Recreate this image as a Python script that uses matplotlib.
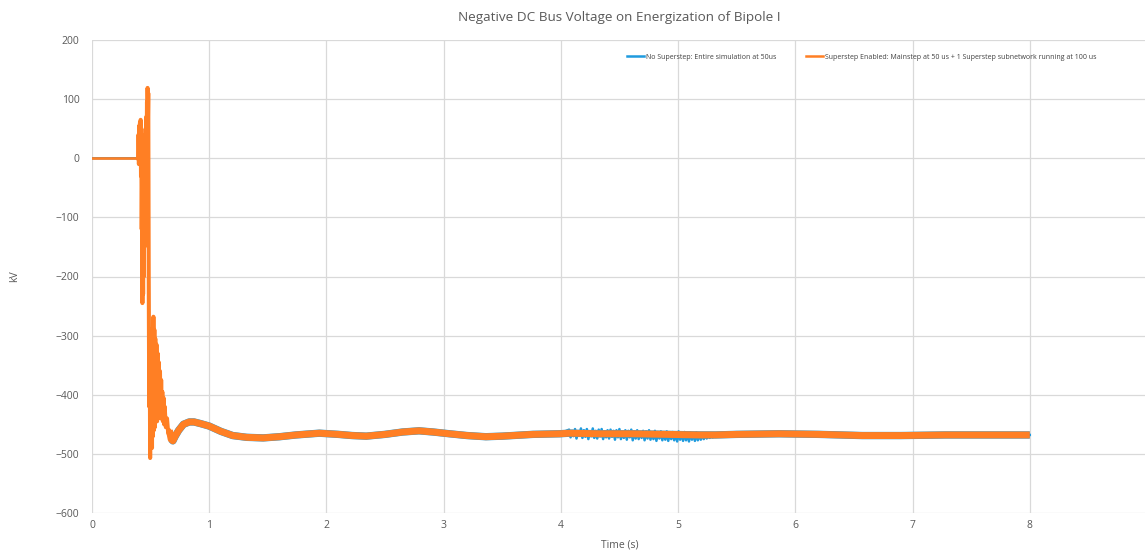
import numpy as np
import matplotlib
matplotlib.use("Agg")
import matplotlib.pyplot as plt

plt.rcParams['font.family'] = ['Open Sans', 'DejaVu Sans']

# superstep run (orange): time in s, voltage in kV
t_orange = [0.0, 0.395, 0.397, 0.400, 0.403, 0.406, 0.409, 0.412, 0.415, 0.418,
            0.421, 0.424, 0.427, 0.430, 0.433, 0.436, 0.439, 0.442, 0.445, 0.448,
            0.451, 0.454, 0.457, 0.460, 0.463, 0.466, 0.469, 0.472, 0.474, 0.477,
            0.480, 0.484, 0.488, 0.492, 0.496, 0.500, 0.504, 0.508, 0.512, 0.516,
            0.520, 0.524, 0.528, 0.532, 0.536, 0.540, 0.545, 0.550, 0.555, 0.560,
            0.565, 0.570, 0.575, 0.580, 0.585, 0.590, 0.595, 0.600, 0.605, 0.610,
            0.615, 0.620, 0.630, 0.640, 0.650, 0.660, 0.675, 0.690, 0.710, 0.740,
            0.780, 0.830, 0.870, 0.930, 1.00, 1.10, 1.20, 1.32, 1.46, 1.60,
            1.74, 1.94, 2.10, 2.22, 2.34, 2.50, 2.65, 2.79, 2.91, 3.05,
            3.20, 3.36, 3.50, 3.76, 3.99, 4.07, 4.33, 4.60, 4.90, 5.18,
            5.32, 5.50, 5.86, 6.20, 6.57, 6.90, 7.28, 7.60, 8.00]
v_orange = [0, 0, 40, -10, 55, 20, 60, 30, 65, -30,
            10, -120, -40, -245, -60, -230, -20, -200, 30, -150,
            40, -60, 50, -30, 70, 10, 95, 40, 119, 60,
            110, -200, -420, -300, -507, -290, -480, -330, -490, -300,
            -470, -268, -460, -290, -455, -305, -440, -315, -445, -330,
            -430, -345, -425, -360, -440, -375, -430, -395, -445, -405,
            -450, -420, -455, -440, -465, -460, -475, -478, -470, -460,
            -450, -446, -446, -449, -453, -462, -469, -472, -473, -471,
            -468, -465, -467, -469, -470, -467, -463, -461, -463, -466,
            -469, -471, -470, -467, -466, -465, -466, -466, -467, -468,
            -468, -467, -466, -467, -469, -469, -468, -468, -468]

# no superstep run (blue): same trace except a noisier stretch 4.07 s .. 5.32 s
blue_noise_start = 4.07
blue_noise_end = 5.32
blue_noise = [-459, -472, -461, -470, -458, -474, -463, -469, -457, -473,
              -460, -471, -458, -475, -462, -470, -457, -473, -461, -474,
              -459, -470, -458, -475, -462, -472, -460, -474, -459, -471,
              -461, -476, -460, -472, -458, -475, -463, -473, -460, -476,
              -461, -472, -459, -477, -462, -474, -460, -475, -463, -473,
              -461, -477, -462, -474, -460, -476, -464, -475, -461, -478,
              -463, -474, -462, -477, -464, -476, -462, -478, -465, -475,
              -463, -477, -464, -479, -462, -476, -465, -478, -463, -477,
              -465, -479, -464, -476, -466, -478, -464, -477, -466, -476,
              -465, -475, -467, -474, -466, -473, -467, -472, -468, -470]

blue_color = '#1F9BDE'
orange_color = '#FF7F24'
gray = '#595959'

t_o = np.array(t_orange)
v_o = np.array(v_orange)
t_noise = np.linspace(blue_noise_start, blue_noise_end, len(blue_noise))
before = t_o < blue_noise_start
after = t_o > blue_noise_end
t_blue = np.concatenate([t_o[before], t_noise, t_o[after]])
v_blue = np.concatenate([v_o[before], blue_noise, v_o[after]])

fig = plt.figure(figsize=(11.45, 5.53), dpi=100)
ax = fig.add_axes([92 / 1145, 40 / 553, 1055 / 1145, 473 / 553])

ax.plot(t_blue, v_blue, color=blue_color, lw=1.8,
        label='No Superstep: Entire simulation at 50us')
ax.plot(t_o[t_o > 0.66], v_o[t_o > 0.66], color=blue_color, lw=5.3,
        solid_capstyle='butt')

# orange: thin flat start, medium transient, wide band afterwards
flat = t_o <= 0.395
trans = (t_o >= 0.395) & (t_o <= 0.69)
steady = t_o >= 0.66
ax.plot(t_o[flat], v_o[flat], color=orange_color, lw=1.9,
        label='Superstep Enabled: Mainstep at 50 us + 1 Superstep subnetwork running at 100 us')
ax.plot(t_o[trans], v_o[trans], color=orange_color, lw=2.9)
ax.plot(t_o[steady], v_o[steady], color=orange_color, lw=5.0, solid_capstyle='butt')

ax.set_xlim(0, 9)
ax.set_ylim(-600, 200)
ax.set_xticks(range(0, 10))
ax.set_yticks(range(-600, 201, 100))
ax.grid(True, color='#D9D9D9', lw=0.9)
ax.set_axisbelow(True)
for s in ax.spines.values():
    s.set_visible(False)
ax.tick_params(length=0, labelsize=7.5, colors=gray)
ax.tick_params(axis='y', pad=9)
ax.tick_params(axis='x', pad=5)

ax.set_title('Negative DC Bus Voltage on Energization of Bipole I', fontsize=9.7,
             color=gray, pad=14)
ax.set_xlabel('Time (s)', fontsize=7.5, color=gray, labelpad=6)
ax.set_ylabel('kV', fontsize=7.5, color=gray, labelpad=26)

leg = ax.legend(loc='center', bbox_to_anchor=(0.7296, 0.964), ncol=2, frameon=False,
                fontsize=5.0, handlelength=2.4, handletextpad=0.3, columnspacing=4.3)
for line in leg.get_lines():
    line.set_linewidth(1.8)
for txt in leg.get_texts():
    txt.set_color('#404040')

fig.savefig('out.png', dpi=100)
